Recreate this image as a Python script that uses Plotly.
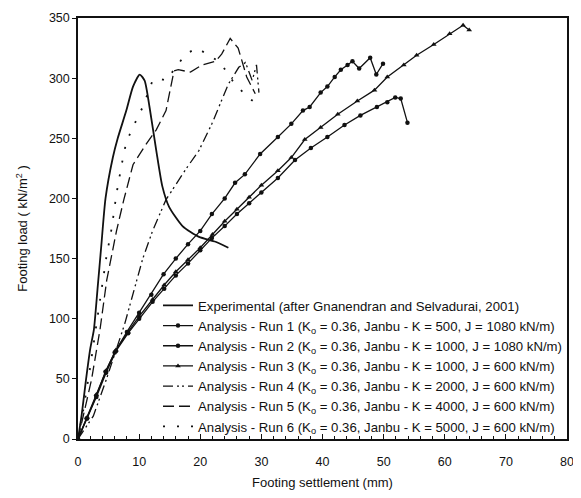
import plotly.graph_objects as go

# ---- data (settlement mm, load kN/m2) ----
exp_x = [0, 0.6, 1.3, 2.0, 2.6, 3.2, 3.8, 4.5, 5.7, 6.5, 7.9, 9.0, 10.1, 10.9, 11.7, 12.8, 13.8, 14.9, 17.1, 19.8, 22.5, 24.6]
exp_y = [0, 20, 49, 75, 91, 125, 160, 200, 234, 250, 273, 293, 303, 298, 276, 240, 210, 193, 177, 168, 164, 159]

run1_x = [0, 1.5, 3, 4.6, 6.2, 8.2, 10, 12.2, 14.1, 16, 18, 20, 21.9, 24, 26, 28, 30, 32.7, 35.5, 38.1, 40.8, 43.6, 46.2, 48.9, 50.6, 51.9, 52.8, 53.9]
run1_y = [0, 17, 35, 55, 73, 88, 100, 114, 125, 136, 146, 157, 167, 177, 187, 196, 205, 217, 232, 242, 251, 261, 269, 276, 280, 284, 283, 263]

run2_x = [0, 1.4, 3, 4.5, 6, 8, 10, 12, 14, 16, 18, 20, 21.9, 24, 25.7, 27.3, 29.8, 32.7, 34.9, 36.8, 37.9, 39.7, 40.8, 42, 43, 44.1, 44.9, 46, 47.8, 48.8, 49.9]
run2_y = [0, 17, 36, 56, 72, 89, 105, 120, 137, 150, 162, 173, 187, 200, 213, 220, 237, 251, 262, 273, 276, 288, 293, 301, 307, 311, 314, 308, 317, 303, 312]

run3_x = [0, 1.5, 3, 4.6, 6.2, 8.2, 10, 12.2, 14.1, 16, 18, 20, 22, 24, 26, 28, 30, 32.7, 34.9, 37.1, 39.7, 42.5, 45.7, 48.5, 50.6, 53.3, 55.4, 58.2, 60.8, 63, 64]
run3_y = [0, 18, 37, 57, 74, 89, 102, 116, 128, 139, 149, 159, 170, 181, 191, 201, 211, 223, 234, 249, 259, 270, 281, 290, 301, 311, 319, 328, 337, 344, 340]

run4_x = [0, 2.5, 4.6, 7.6, 10.6, 12.2, 14.4, 17.6, 19.8, 21.9, 24.6, 26.3, 27.4, 28.5, 29.2, 29.6]
run4_y = [0, 19, 49, 95, 150, 173, 199, 224, 240, 262, 295, 309, 313, 298, 311, 288]

run5_x = [0, 2.2, 3.6, 4.7, 6.3, 7.5, 9.0, 11.0, 12.8, 14.4, 15.7, 16.4, 18.4, 20.3, 22.5, 23.5, 24.9, 26.2, 27.6, 29.0]
run5_y = [0, 49, 91, 132, 173, 199, 228, 244, 257, 273, 306, 307, 305, 311, 314, 320, 333, 325, 301, 287]

run6_x = [0, 1, 2, 3, 4, 4.6, 5.5, 6.3, 7.1, 7.9, 9.8, 10.6, 12.2, 13, 14.4, 17.6, 19.5, 23.3, 23.8, 24.3, 25.4, 26.3, 27.8, 30]
run6_y = [0, 28, 60, 95, 130, 150, 175, 204, 227, 247, 268, 276, 298, 300, 298, 320, 325, 313, 309, 305, 297, 292, 284, 276]

x_ticks = [0, 10, 20, 30, 40, 50, 60, 70, 80]
y_ticks = [0, 50, 100, 150, 200, 250, 300, 350]

names = [
    "Experimental (after Gnanendran and Selvadurai, 2001)",
    "Analysis - Run 1 (K<sub>o</sub> = 0.36, Janbu - K = 500, J = 1080 kN/m)",
    "Analysis - Run 2 (K<sub>o</sub> = 0.36, Janbu - K = 1000, J = 1080 kN/m)",
    "Analysis - Run 3 (K<sub>o</sub> = 0.36, Janbu - K = 1000, J = 600 kN/m)",
    "Analysis - Run 4 (K<sub>o</sub> = 0.36, Janbu - K = 2000, J = 600 kN/m)",
    "Analysis - Run 5 (K<sub>o</sub> = 0.36, Janbu - K = 4000, J = 600 kN/m)",
    "Analysis - Run 6 (K<sub>o</sub> = 0.36, Janbu - K = 5000, J = 600 kN/m)",
]

ink = "#111"
fig = go.Figure()
fig.add_trace(go.Scatter(x=exp_x, y=exp_y, mode="lines", name=names[0],
                         line=dict(color=ink, width=1.8, shape="spline", smoothing=0.6)))
fig.add_trace(go.Scatter(x=run1_x, y=run1_y, mode="lines+markers", name=names[1],
                         line=dict(color=ink, width=1.3),
                         marker=dict(symbol="circle", size=4.5, color=ink)))
fig.add_trace(go.Scatter(x=run2_x, y=run2_y, mode="lines+markers", name=names[2],
                         line=dict(color=ink, width=1.3),
                         marker=dict(symbol="circle", size=4.5, color=ink)))
fig.add_trace(go.Scatter(x=run3_x, y=run3_y, mode="lines+markers", name=names[3],
                         line=dict(color=ink, width=1.3),
                         marker=dict(symbol="triangle-up", size=5, color=ink)))
fig.add_trace(go.Scatter(x=run4_x, y=run4_y, mode="lines", name=names[4],
                         line=dict(color=ink, width=1.3, dash="10px,4px,2px,3px,2px,4px")))
fig.add_trace(go.Scatter(x=run5_x, y=run5_y, mode="lines", name=names[5],
                         line=dict(color=ink, width=1.3, dash="11px,5px")))
fig.add_trace(go.Scatter(x=run6_x, y=run6_y, mode="lines", name=names[6],
                         line=dict(color=ink, width=1.8, dash="2px,12px")))

font = "Arial, Liberation Sans, sans-serif"
fig.update_layout(
    width=573, height=482,
    margin=dict(l=70, r=14, t=10, b=51, autoexpand=False),
    paper_bgcolor="white", plot_bgcolor="white",
    font=dict(family=font, size=12, color=ink),
    showlegend=True,
    legend=dict(x=1.0, xanchor="right", y=-0.008, yanchor="bottom",
                bgcolor="rgba(0,0,0,0)", font=dict(size=13.2),
                tracegroupgap=0, itemwidth=30),
)
fig.update_xaxes(range=[0, 80], tickvals=x_ticks, automargin=False,
                 ticks="inside", ticklen=5, tickcolor=ink, ticklabelstandoff=10,
                 minor=dict(dtick=2, ticks="inside", ticklen=3, tickcolor=ink),
                 showline=True, linecolor=ink, linewidth=1.5, mirror=True,
                 showgrid=False, zeroline=False, tickfont=dict(size=12.5),
                 title=dict(text="Footing settlement (mm)", font=dict(size=13), standoff=10))
fig.update_yaxes(range=[0, 350], tickvals=y_ticks, automargin=False,
                 ticks="outside", ticklen=4, tickcolor=ink,
                 showline=True, linecolor=ink, linewidth=1.5, mirror=True,
                 showgrid=False, zeroline=False, tickfont=dict(size=12.5),
                 title=dict(text="Footing load ( kN/m<sup>2</sup> )", font=dict(size=13), standoff=18))

fig.write_html("out.html")
